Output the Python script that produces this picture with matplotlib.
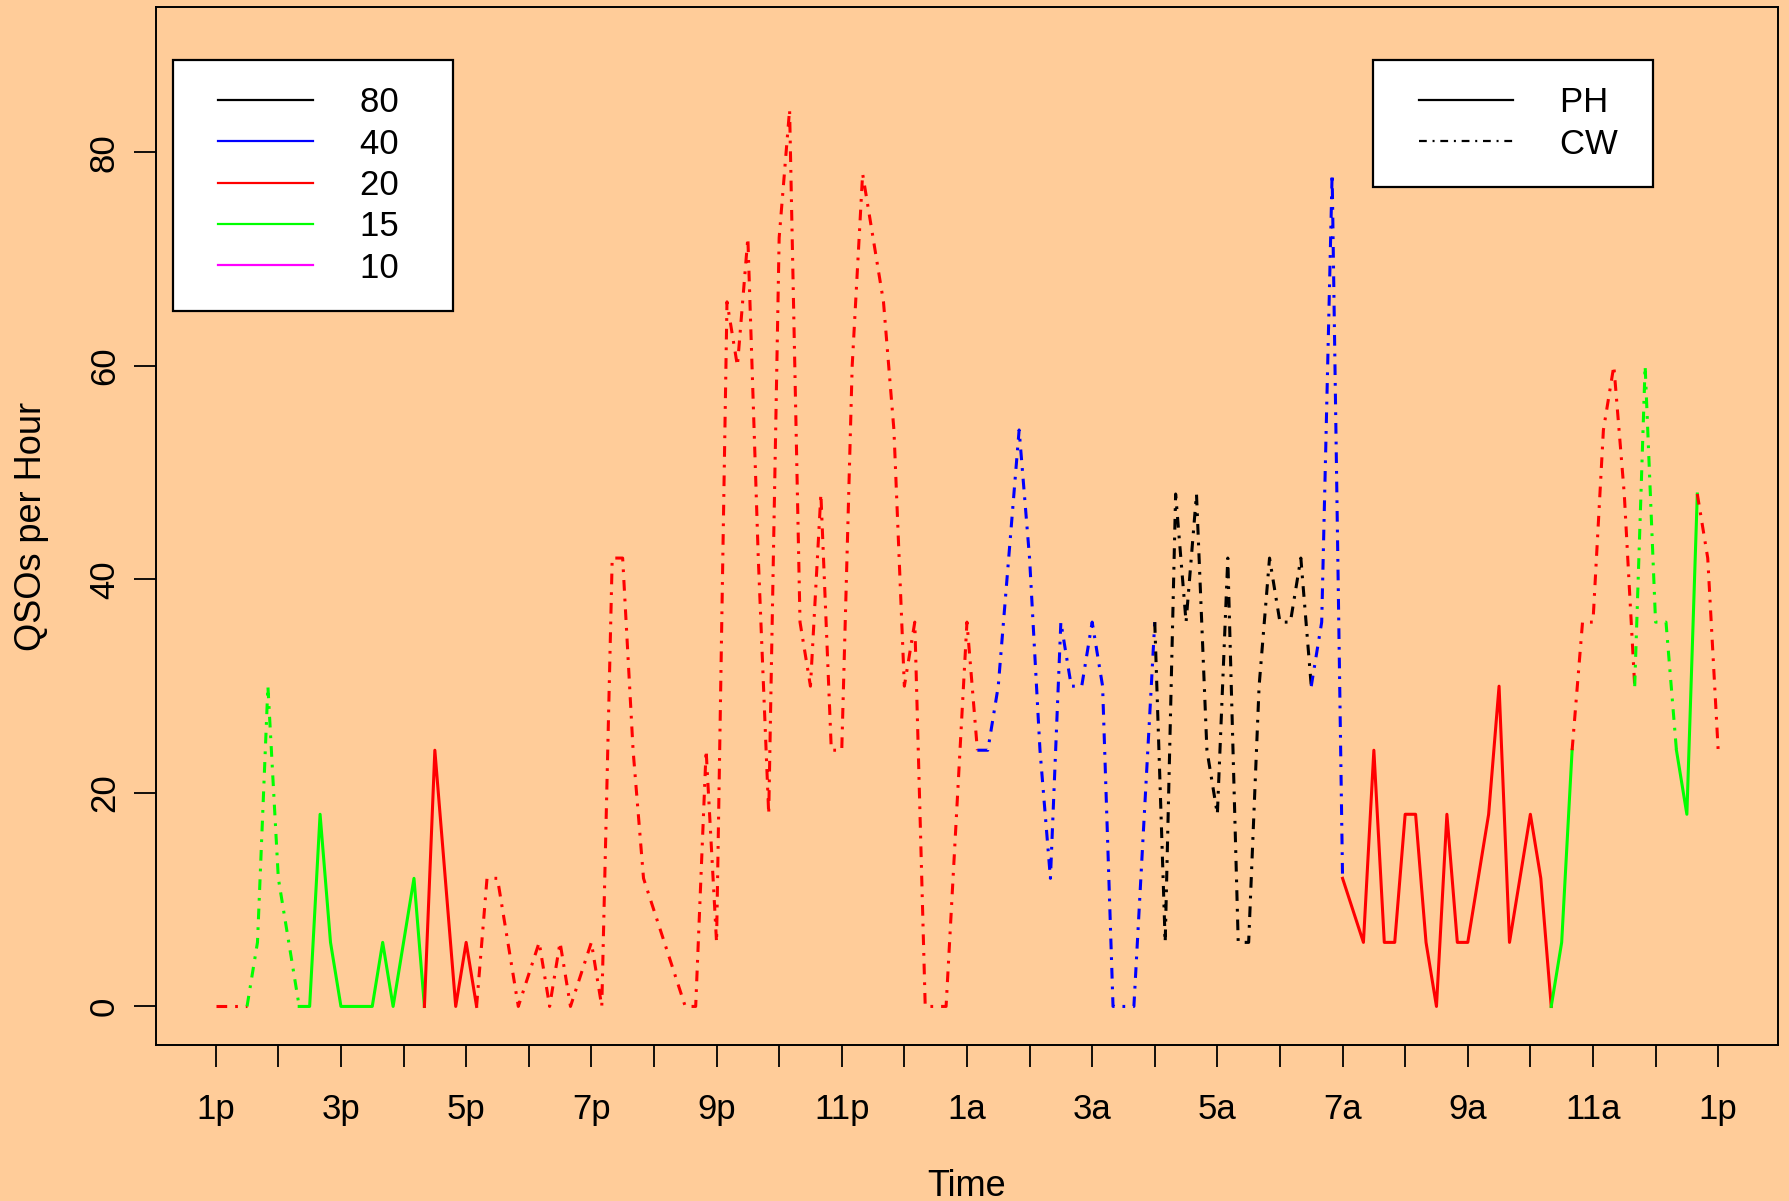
import matplotlib.pyplot as plt
import numpy as np
from matplotlib.lines import Line2D
from matplotlib.legend_handler import HandlerLine2D

plt.rcParams['font.family'] = ['Liberation Sans', 'DejaVu Sans']

# QSO rate, one reading every 10 minutes from 1p to 1p
rate = [0, 0, 0, 0, 6, 30, 12, 6, 0,
        0, 18, 6, 0, 0, 0, 0, 6, 0, 6, 12, 0,
        24, 12, 0, 6, 0,
        12, 12, 6, 0, 3, 6, 0, 6, 0, 3, 6, 0, 42, 42, 24, 12, 9, 6, 3, 0, 0,
        24, 6, 66, 60, 72, 42, 18, 72, 84, 36, 30, 48, 24, 24, 60, 78, 72,
        66, 54, 30, 36, 0, 0, 0, 18, 36, 24,
        24, 30, 42, 54, 42, 24, 12, 36, 30, 30, 36, 30, 0, 0, 0, 18, 36,
        6, 48, 36, 48, 24, 18, 42, 6, 6, 30, 42, 36, 36, 42, 30,
        36, 78, 12,
        9, 6, 24, 6, 6, 18, 18, 6, 0, 18, 6, 6, 12, 18, 30, 6, 12, 18, 12, 0,
        6, 24,
        36, 36, 54, 60, 48, 30,
        60, 36, 36, 24,
        18, 48,
        42, 24]

# runs of consecutive readings on the same band / mode
run_band = [20, 15, 15, 20, 20, 40, 80, 40, 20, 15, 20, 15, 15, 20]
run_mode = ['CW', 'CW', 'PH', 'PH', 'CW', 'CW', 'CW', 'CW', 'PH', 'PH',
            'CW', 'CW', 'PH', 'CW']
run_len = [4, 5, 12, 5, 48, 17, 15, 3, 20, 2, 6, 4, 2, 2]

legend_bands = [80, 40, 20, 15, 10]
legend_modes = ['PH', 'CW']
band_color = {80: 'black', 40: '#0000ff', 20: '#ff0000', 15: '#00ff00', 10: '#ff00ff'}
tick_labels = ['1p', '3p', '5p', '7p', '9p', '11p', '1a', '3a', '5a', '7a',
               '9a', '11a', '1p']

BG = '#ffcc99'
LW = 2.2
CW_DASH = (0, (3.5, 2.6, 0.9, 2.6))
mode_style = {'PH': '-', 'CW': CW_DASH}

hours = np.arange(len(rate)) / 6.0
rate = np.array(rate)

fig = plt.figure(figsize=(17.89, 12.01), dpi=100, facecolor=BG)
ax = fig.add_axes([0.087, 0.130, 0.907, 0.864])
ax.set_facecolor(BG)

start = 0
for band, mode, n in zip(run_band, run_mode, run_len):
    i0 = max(start - 1, 0)
    i1 = start + n
    ax.plot(hours[i0:i1], rate[i0:i1], color=band_color[band],
            linestyle=mode_style[mode], linewidth=LW)
    start = i1

ax.set_xlim(-0.96, 24.96)
ax.set_ylim(-3.6, 93.6)
ax.set_xticks(np.arange(0, 25, 2))
ax.set_xticklabels(tick_labels)
ax.set_xticks(np.arange(1, 25, 2), minor=True)
ax.set_yticks([0, 20, 40, 60, 80])
ax.set_yticklabels(['0', '20', '40', '60', '80'], rotation=90, va='center')
ax.tick_params(axis='both', which='both', length=16, width=1.3,
               labelsize=25, direction='out')
ax.tick_params(axis='x', which='major', pad=19)
ax.tick_params(axis='y', which='major', pad=9)
for sp in ax.spines.values():
    sp.set_linewidth(1.4)

ax.set_xlabel('Time', fontsize=26)
ax.set_ylabel('QSOs per Hour', fontsize=26)
ax.xaxis.set_label_coords(0.5, -0.120)
ax.yaxis.set_label_coords(-0.066, 0.5)

leg_kw = dict(borderaxespad=0, fontsize=25, handlelength=3.28,
              handletextpad=1.35, labelspacing=0.24, borderpad=0.75,
              fancybox=False, framealpha=1, edgecolor='black',
              facecolor='white',
              handler_map={Line2D: HandlerLine2D(xpad=0.56)})

band_handles = [Line2D([], [], color=band_color[b], linewidth=1.6) for b in legend_bands]
leg1 = ax.legend(band_handles, [str(b) + '   ' for b in legend_bands],
                 loc='upper left', bbox_to_anchor=(0.0106, 0.949), **leg_kw)
leg1.get_frame().set_linewidth(1.6)
ax.add_artist(leg1)

mode_handles = [Line2D([], [], color='black', linewidth=1.6,
                       linestyle=mode_style[m]) for m in legend_modes]
leg2 = ax.legend(mode_handles, [m + ' ' for m in legend_modes],
                 loc='upper right', bbox_to_anchor=(0.923, 0.949), **leg_kw)
leg2.get_frame().set_linewidth(1.6)

fig.savefig('out.png', dpi=100, facecolor=BG)
